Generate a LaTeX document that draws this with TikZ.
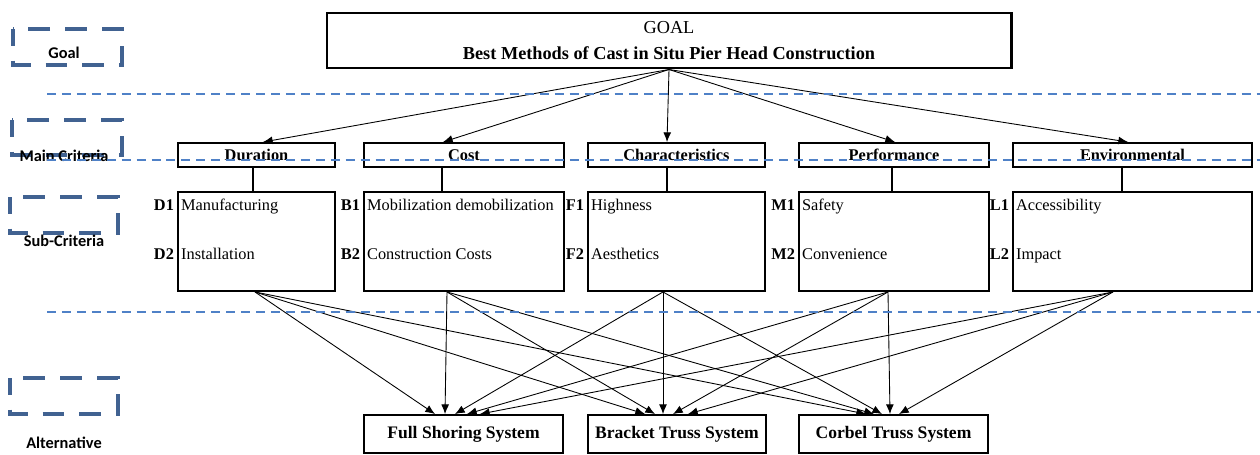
\documentclass[tikz,border=0pt]{standalone}
\usepackage{fontspec}
\setmainfont{Liberation Serif}
\newfontfamily\lvlfont{Carlito}
\usetikzlibrary{arrows.meta}

\definecolor{lvlblue}{RGB}{65,98,145}
\definecolor{sepblue}{RGB}{79,129,199}

\def \u {0.02cm}

\begin{document}
\begin{tikzpicture}[x=\u, y=-\u,
    every node/.style={font=\fontsize{9.3}{11}\selectfont},
    box/.style={draw, line width=1.1pt, fill=white, inner sep=0pt},
    crit/.style={box, font=\fontsize{9.3}{11}\selectfont\bfseries, minimum height=24*\u},
    subbox/.style={box, minimum height=99*\u},
    altbox/.style={box, font=\fontsize{10}{12}\selectfont\bfseries, minimum height=38*\u},
    code/.style={anchor=base east, inner sep=1pt, font=\fontsize{9.3}{11}\selectfont\bfseries},
    item/.style={anchor=base west, inner sep=1pt},
    level/.style={font=\fontsize{9.3}{11}\selectfont\lvlfont\bfseries, inner sep=1pt},
    lvlframe/.style={draw=lvlblue, line width=2.3pt, dash pattern=on 12.5pt off 8.5pt, dash phase=3pt},
    sep/.style={draw=sepblue, line width=1pt, dash pattern=on 5.1pt off 3.4pt},
    arr/.style={-{Latex[length=5.5pt,width=4.5pt]}, line width=0.5pt},
    link/.style={line width=0.6pt}]
  \useasboundingbox (0,0) rectangle (1260,454);

  %goal
  \node[box, line width=1.7pt, minimum width=684*\u, minimum height=55*\u, align=center,
        font=\fontsize{10.4}{15.3}\selectfont] (goal) at (669,40.5)
        {GOAL\\ \textbf{Best Methods of Cast in Situ Pier Head Construction}};

  %main criteria
  \node[crit, minimum width=157*\u] (mDur) at (256.5,155) {Duration};
  \node[crit, minimum width=200*\u] (mCost) at (464,155) {Cost};
  \node[crit, minimum width=177*\u] (mChar) at (676.5,155) {Characteristics};
  \node[crit, minimum width=190*\u] (mPerf) at (894,155) {Performance};
  \node[crit, minimum width=239*\u] (mEnv) at (1132.5,155) {Environmental};

  %sub-criteria
  \node[subbox, minimum width=157*\u] (sDur) at (256.5,241.5) {};
  \node[subbox, minimum width=200*\u] (sCost) at (464,241.5) {};
  \node[subbox, minimum width=177*\u] (sChar) at (676.5,241.5) {};
  \node[subbox, minimum width=190*\u] (sPerf) at (894,241.5) {};
  \node[subbox, minimum width=239*\u] (sEnv) at (1132.5,241.5) {};
  \foreach \n/\ca/\ia/\cb/\ib in {Dur/D1/Manufacturing/D2/Installation,
      Cost/B1/Mobilization demobilization/B2/Construction Costs,
      Char/F1/Highness/F2/Aesthetics, Perf/M1/Safety/M2/Convenience,
      Env/L1/Accessibility/L2/Impact} {
    \node[item] (t\ca) at ([xshift=2*\u, yshift=-19*\u]s\n.north west) {\ia};
    \node[code] (k\ca) at ([xshift=-1*\u, yshift=-19*\u]s\n.north west) {\ca};
    \node[item] (t\cb) at ([xshift=2*\u, yshift=-68*\u]s\n.north west) {\ib};
    \node[code] (k\cb) at ([xshift=-1*\u, yshift=-68*\u]s\n.north west) {\cb};
  }

  %alternatives
  \node[altbox, minimum width=199*\u] (aFull) at (463.5,434) {Full Shoring System};
  \node[altbox, minimum width=178*\u] (aBracket) at (677,434) {Bracket Truss System};
  \node[altbox, minimum width=189*\u] (aCorbel) at (893.5,434) {Corbel Truss System};

  %goal -> criteria -> sub-criteria
  \foreach \n/\tx/\lx in {Dur/263/253, Cost/443/442, Char/667/667, Perf/895/892, Env/1128/1122} {
    \draw[arr] (goal.south) -- (m\n.north -| \tx,0);
    \draw[link] (m\n.south -| \lx,0) -- (s\n.north -| \lx,0);
  }

  %sub-criteria -> alternatives
  \foreach \n/\bx/\fa/\fb/\fc in {Dur/255/435/645/866, Cost/447/445/655/874,
      Char/663/455/663/882, Perf/888/467/673/890, Env/1113/480/688/899} {
    \draw[arr] (s\n.south -| \bx,0) -- (aFull.north -| \fa,0);
    \draw[arr] (s\n.south -| \bx,0) -- (aBracket.north -| \fb,0);
    \draw[arr] (s\n.south -| \bx,0) -- (aCorbel.north -| \fc,0);
  }

  %levels
  \draw[lvlframe] (13,29) rectangle (122,65);
  \draw[lvlframe] (12,120) rectangle (122,155);
  \draw[lvlframe] (10,197) rectangle (118,233);
  \draw[lvlframe] (10,378) rectangle (118,414);
  \node[level] (lGoal) at (64,53) {Goal};
  \node[level] (lMain) at (64,156) {Main Criteria};
  \node[level] (lSub) at (64,241) {Sub-Criteria};
  \node[level] (lAlt) at (64,443) {Alternative};

  %separators
  \draw[sep] (47,94) -- (1260,94);
  \draw[sep] (47,160) -- (1260,160);
  \draw[sep] (47,312) -- (1260,312);
\end{tikzpicture}
\end{document}
